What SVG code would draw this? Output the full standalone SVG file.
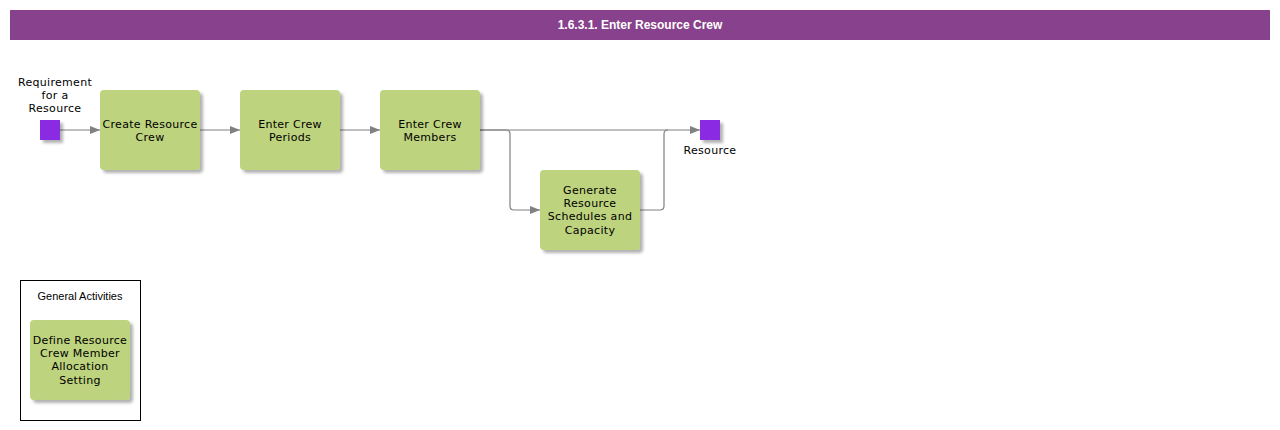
<svg xmlns="http://www.w3.org/2000/svg" width="1280" height="430" viewBox="0 0 1280 430">
<style>
.t{font-family:"DejaVu Sans",Verdana,sans-serif;font-size:11px;letter-spacing:0.3px;fill:#000;text-anchor:middle}
.act{fill:#BDD37E;filter:url(#sh)}
.ev{fill:#8A2BE2;filter:url(#sh)}
.c{fill:none;stroke:#808080;stroke-width:1.2}
</style>
<defs>
<filter id="sh" x="-20%" y="-20%" width="150%" height="150%">
<feDropShadow dx="3" dy="3" stdDeviation="1.5" flood-color="#000" flood-opacity="0.3"/>
</filter>
<marker id="ar" viewBox="0 0 10 8" refX="10" refY="4" markerWidth="10" markerHeight="8" markerUnits="userSpaceOnUse" orient="auto">
<path d="M0,0 L10,4 L0,8 Z" fill="#808080"/>
</marker>
</defs>
<g id="title">
<rect x="10" y="10" width="1260" height="30" fill="#88418C"/>
<text x="640" y="29" font-family="'Liberation Sans',Arial,sans-serif" font-size="12" font-weight="bold" fill="#fff" text-anchor="middle">1.6.3.1. Enter Resource Crew</text>
</g>
<g id="connectors">
<path class="c" d="M60,130 H100" marker-end="url(#ar)"/>
<path class="c" d="M200,130 H240" marker-end="url(#ar)"/>
<path class="c" d="M340,130 H380" marker-end="url(#ar)"/>
<path class="c" d="M480,130 H700" marker-end="url(#ar)"/>
<path class="c" d="M480,130 H506 Q510,130 510,134 V206 Q510,210 514,210 H540" marker-end="url(#ar)"/>
<path class="c" d="M640,210 H660 Q664,210 664,206 V134 Q664,130 668,130"/>
</g>
<g id="start">
<rect class="ev" x="40" y="120" width="20" height="20"/>
<text class="t" x="55" y="86">Requirement</text>
<text class="t" x="55" y="99">for a</text>
<text class="t" x="55" y="112">Resource</text>
</g>
<g id="n1">
<rect class="act" x="100" y="90" width="100" height="80" rx="4"/>
<text class="t" x="150" y="128">Create Resource</text>
<text class="t" x="150" y="141">Crew</text>
</g>
<g id="n2">
<rect class="act" x="240" y="90" width="100" height="80" rx="4"/>
<text class="t" x="290" y="128">Enter Crew</text>
<text class="t" x="290" y="141">Periods</text>
</g>
<g id="n3">
<rect class="act" x="380" y="90" width="100" height="80" rx="4"/>
<text class="t" x="430" y="128">Enter Crew</text>
<text class="t" x="430" y="141">Members</text>
</g>
<g id="n4">
<rect class="act" x="540" y="170" width="100" height="80" rx="4"/>
<text class="t" x="590" y="194">Generate</text>
<text class="t" x="590" y="207">Resource</text>
<text class="t" x="590" y="220">Schedules and</text>
<text class="t" x="590" y="234">Capacity</text>
</g>
<g id="end">
<rect class="ev" x="700" y="120" width="20" height="20"/>
<text class="t" x="710" y="154">Resource</text>
</g>
<g id="general">
<rect x="20.5" y="280.5" width="120" height="140" fill="#fff" stroke="#000" stroke-width="1"/>
<text x="80" y="300" font-family="'Liberation Sans',Arial,sans-serif" font-size="11" text-anchor="middle">General Activities</text>
</g>
<g id="n5">
<rect class="act" x="30" y="320" width="100" height="80" rx="4"/>
<text class="t" x="80" y="344">Define Resource</text>
<text class="t" x="80" y="357">Crew Member</text>
<text class="t" x="80" y="370">Allocation</text>
<text class="t" x="80" y="384">Setting</text>
</g>
</svg>
